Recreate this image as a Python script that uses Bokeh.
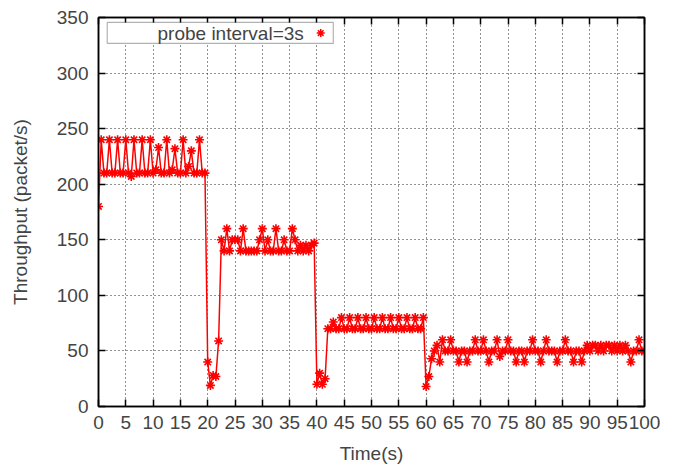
from bokeh.plotting import figure
from bokeh.models import (LinearAxis, FixedTicker, Range1d, BoxAnnotation, Label,
                          ColumnDataSource)
from bokeh.embed import file_html
from bokeh.resources import INLINE

# ---- data ----
sample_interval = 0.5  # seconds between samples
throughput = [
    # 0 - 20 s
    180, 240, 210, 210, 240, 210, 210, 240, 210, 210,
    240, 210, 207, 240, 210, 210, 240, 210, 210, 240,
    210, 213, 233, 210, 210, 240, 210, 213, 232, 210,
    210, 240, 210, 216, 230, 210, 210, 240, 210, 210,
    # 20 - 40 s
    40, 19, 28, 27, 59, 150, 140, 160, 140, 150,
    150, 150, 140, 160, 140, 140, 140, 140, 140, 150,
    160, 140, 150, 140, 140, 160, 140, 140, 150, 140,
    140, 160, 150, 140, 145, 140, 145, 140, 145, 147,
    # 40 - 60 s
    20, 30, 20, 25, 70, 70, 76, 70, 70, 80,
    70, 70, 80, 70, 70, 80, 70, 70, 80, 70,
    70, 80, 70, 70, 80, 70, 70, 80, 70, 70,
    80, 70, 70, 80, 70, 70, 80, 70, 70, 80,
    # 60 - 100 s
    18, 27, 43, 50, 55, 40, 60, 50, 50, 60,
    50, 50, 40, 50, 50, 40, 50, 50, 60, 50,
    50, 60, 50, 40, 50, 50, 60, 45, 50, 50,
    60, 50, 50, 40, 50, 50, 40, 50, 50, 60,
    50, 50, 40, 50, 60, 50, 50, 50, 40, 50,
    50, 60, 50, 50, 40, 50, 50, 40, 50, 55,
    50, 55, 55, 50, 55, 50, 55, 55, 50, 55,
    50, 55, 50, 55, 50, 40, 50, 50, 60, 50,
    50, 50,
]
time_s = [i * sample_interval for i in range(len(throughput))]

x_ticks = list(range(0, 101, 5))
y_ticks = list(range(0, 351, 50))
legend_label = "probe interval=3s"
x_label = "Time(s)"
y_label = "Throughput (packet/s)"

FONT = "Liberation Sans"
FS = "19px"

p = figure(width=674, height=466, output_backend="svg", toolbar_location=None,
           x_range=Range1d(0, 100), y_range=Range1d(0, 350),
           min_border_left=98, min_border_right=30, min_border_top=17,
           min_border_bottom=59, x_axis_label=x_label, y_axis_label=y_label)
p.background_fill_color = "white"
p.border_fill_color = "white"
p.outline_line_color = "black"
p.outline_line_width = 1.5

for ax in (p.xaxis[0], p.yaxis[0]):
    ax.axis_line_width = 1.5
    ax.major_tick_in = 7
    ax.major_tick_out = 0
    ax.minor_tick_line_color = None
    ax.major_tick_line_width = 1.5
    ax.major_label_text_font = FONT
    ax.major_label_text_font_size = FS
    ax.axis_label_text_font = FONT
    ax.axis_label_text_font_size = FS
    ax.axis_label_text_font_style = "normal"
p.xaxis[0].ticker = FixedTicker(ticks=x_ticks)
p.yaxis[0].ticker = FixedTicker(ticks=y_ticks)
p.xaxis[0].major_label_standoff = 9
p.yaxis[0].major_label_standoff = 10
p.xaxis[0].axis_label_standoff = 11
p.yaxis[0].axis_label_standoff = 23

top = LinearAxis(ticker=FixedTicker(ticks=x_ticks), major_label_text_color=None,
                 major_tick_in=7, major_tick_out=0, minor_tick_line_color=None,
                 axis_line_width=1.5, major_tick_line_width=1.5)
right = LinearAxis(ticker=FixedTicker(ticks=y_ticks), major_label_text_color=None,
                   major_tick_in=7, major_tick_out=0, minor_tick_line_color=None,
                   axis_line_width=1.5, major_tick_line_width=1.5)
top.major_label_text_font_size = "0px"
right.major_label_text_font_size = "0px"
p.add_layout(top, "above")
p.add_layout(right, "right")

p.xgrid.ticker = FixedTicker(ticks=x_ticks[1:-1])
p.ygrid.ticker = FixedTicker(ticks=y_ticks[1:-1])
for g in (p.xgrid[0], p.ygrid[0]):
    g.grid_line_color = "#222222"
    g.grid_line_dash = "1 3"
    g.grid_line_width = 1

src = ColumnDataSource(dict(t=time_s, v=throughput))
p.line("t", "v", source=src, line_color="red", line_width=1.5)
p.scatter("t", "v", source=src, marker="asterisk", size=9, line_color="red",
          line_width=1.6)

# legend box (gnuplot style: label then sample)
p.add_layout(BoxAnnotation(left=1.6, right=43, bottom=326.7, top=345.6,
                           fill_color="white", fill_alpha=1, line_color="black",
                           line_width=1.2, level="annotation"))
p.add_layout(Label(x=37.6, y=336, text=legend_label, text_align="right",
                   text_baseline="middle", text_font=FONT, text_font_size=FS,
                   level="overlay"))
leg_src = ColumnDataSource(dict(x=[40.7], y=[336]))
p.scatter("x", "y", source=leg_src, marker="asterisk", size=8, line_color="red",
          line_width=1.5, level="overlay")

open("out.html", "w").write(file_html(p, INLINE))
